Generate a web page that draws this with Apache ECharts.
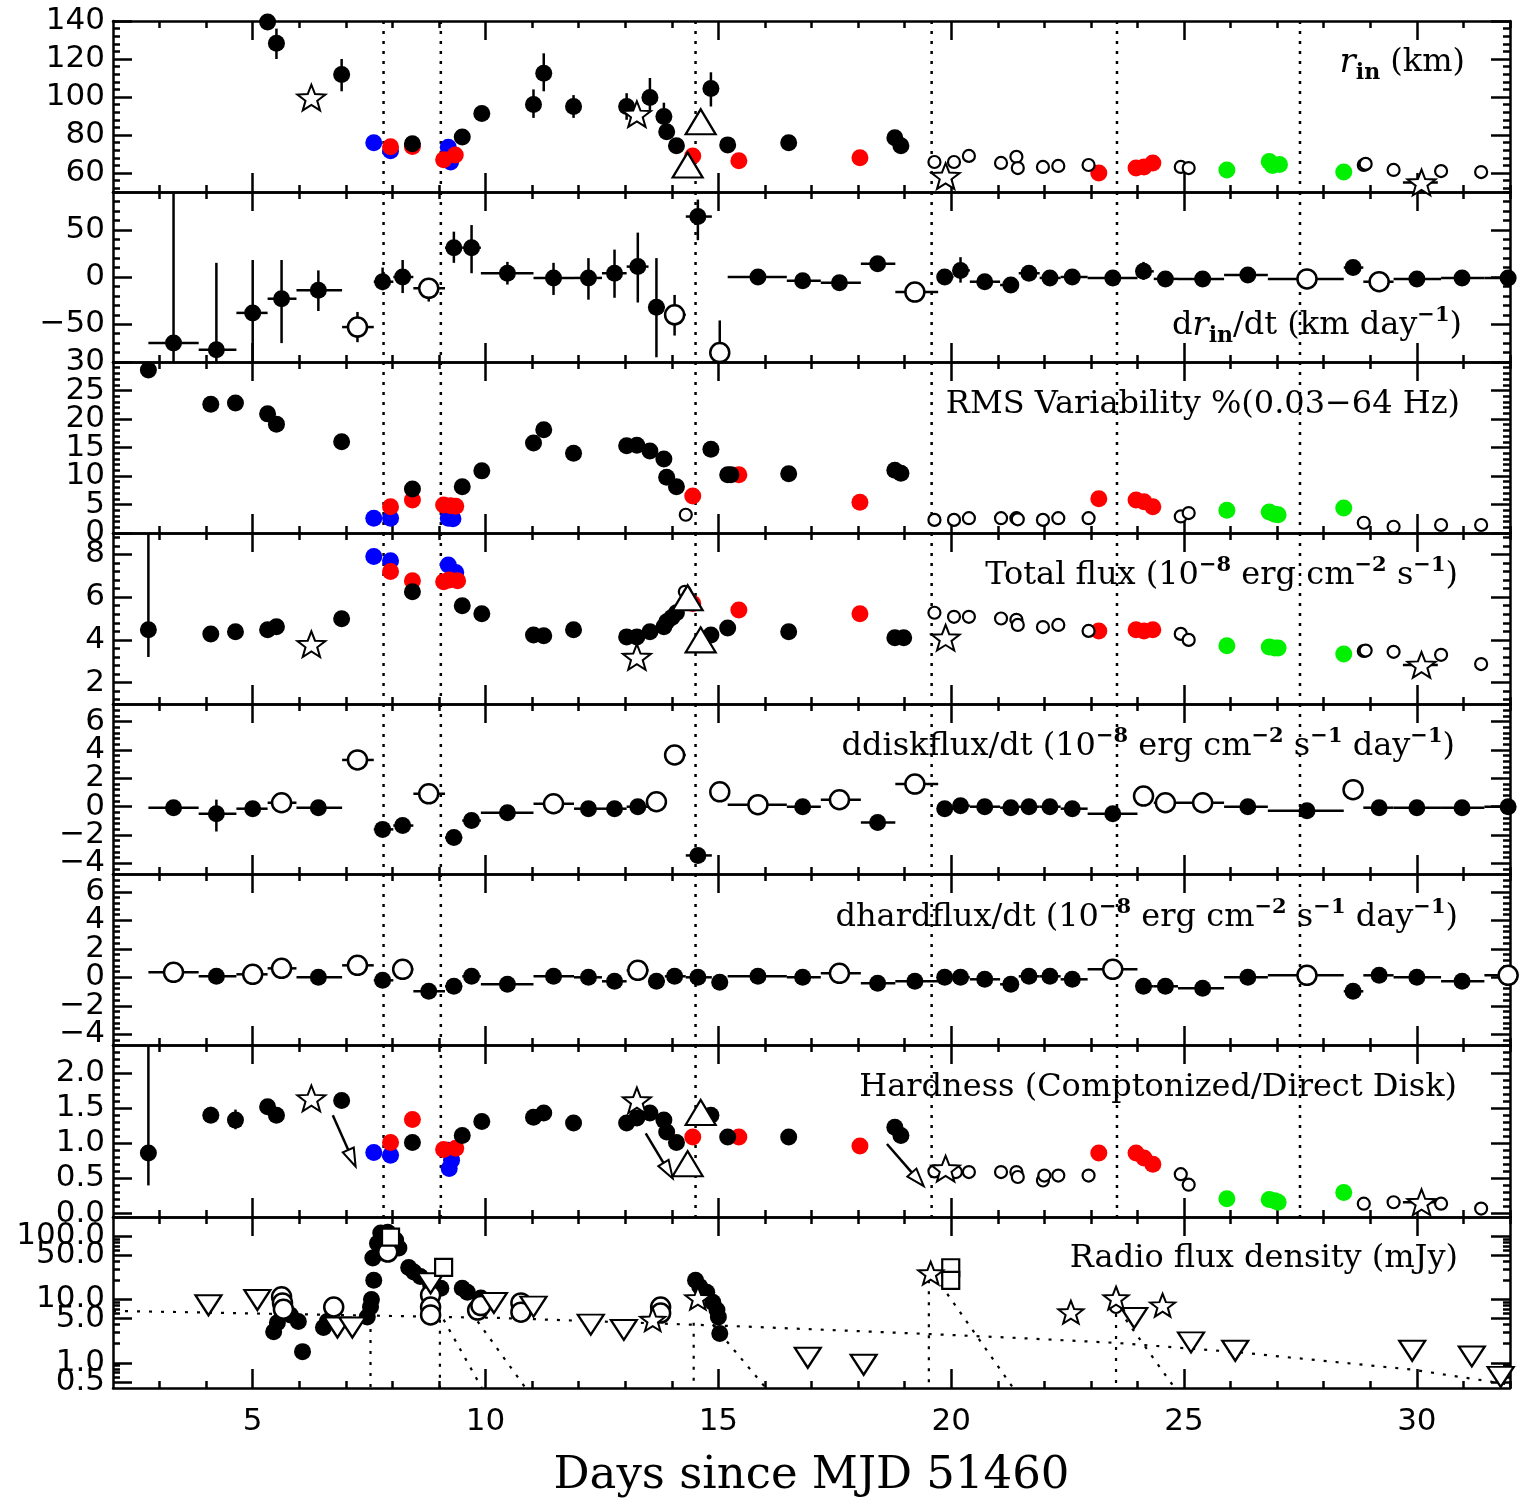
<!DOCTYPE html>
<html>
<head>
<meta charset="utf-8">
<script src="https://cdn.jsdelivr.net/npm/echarts@6.0.0/dist/echarts.min.js"></script>
<style>
  html, body { margin: 0; background: #fff; }
  #chart { width: 1525px; height: 1510px; }
</style>
</head>
<body>
<div id="chart"></div>
<script>
// ---------------- data ----------------
const xMajor = [5, 10, 15, 20, 25, 30];
const eventDays = [7.81, 9.04, 14.51, 19.58, 23.56, 27.49];

// time bins shared by the derivative panels
const binMid = [3.3, 4.22, 5.0, 5.62, 6.41, 7.25, 7.79, 8.22, 8.78, 9.32, 9.7, 10.47, 11.46, 12.21, 12.77, 13.27, 13.67, 14.06, 14.56, 15.03, 15.85, 16.81, 17.6, 18.42, 19.22, 19.86, 20.2, 20.72, 21.28, 21.67, 22.12, 22.6, 23.47, 24.13, 24.6, 25.4, 26.37, 27.64, 28.63, 29.19, 30.0, 30.97, 31.96];
const binEdges = [2.76, 3.84, 4.65, 5.32, 5.94, 6.92, 7.6, 8.02, 8.45, 9.13, 9.5, 9.9, 11.03, 11.9, 12.5, 13.03, 13.5, 13.85, 14.3, 14.86, 15.2, 16.47, 17.2, 18.06, 18.8, 19.72, 20.05, 20.4, 21.05, 21.45, 21.9, 22.35, 22.93, 24.0, 24.35, 24.87, 25.86, 26.8, 28.43, 28.85, 29.5, 30.52, 31.45, 32.45];

// panel 1: r_in (km)
const rinFilled = [[5.32,139.5],[5.51,128.3],[6.91,111.9],[8.43,75.4],[9.5,79],[9.92,91.3],[11.03,96],[11.25,112.5],[11.89,95],[13.03,95],[13.53,99.7],[13.83,89.7],[13.89,81.7],[14.1,74.3],[14.84,104.5],[15.2,74.8],[16.51,75.9],[18.79,78.5],[18.92,74.3]];
const rinErr = [[5.51,120,136],[6.91,103,120],[9.92,88,95],[11.03,89,104],[11.25,103,123],[11.89,89,101],[13.03,88,102],[13.53,93,110],[13.83,88,97],[14.84,95,113]];
const rinRed = [[7.96,73.8],[8.43,74],[9.1,67],[9.35,69.5],[14.45,69],[15.44,66.4],[18.04,68],[23.17,60],[23.97,62.6],[24.14,63.2],[24.33,65.3]];
const rinBlue = [[7.6,75.9],[7.96,71.7],[9.2,73.5],[9.25,65.8]];
const rinGreen = [[25.92,61.6],[26.83,66],[26.9,64],[27.05,64.5],[28.43,60.5]];
const rinOpen = [[19.64,65.8],[20.06,65.8],[20.38,69],[21.07,65.3],[21.4,68.5],[21.43,62.6],[21.97,63.2],[22.3,63.7],[22.95,64.2],[24.93,63.2],[25.1,62.6],[28.86,64.2],[28.9,64.8],[29.5,61.6],[30.52,61],[31.38,60.5]];
const rinStar = [[6.26,99.7],[13.25,91],[19.88,58.4],[30.1,55]];
const rinTri = [[14.62,87],[14.34,64.2]];

// panel 2: dr_in/dt
const drdtY = [-70,-77,-38,-23,-14,-53,-5,0,-12,31,31,4,-1,-1,4,11,-32,-40,64,-80,0,-4,-6,14,-16,0,7,-5,-8.5,4,-1,0,-1,6,-2,-2,2,-2,10,-5,-2,-1,-1];
const drdtHollow = [5, 8, 17, 19, 24, 37, 39];
const drdtYErr = [[0,-120,95],[1,-120,15],[2,-120,18],[3,-70,18],[4,-36,7],[5,-69,-37],[6,-14,10],[7,-17,18],[8,-26,-1],[9,15,48],[10,4,55],[11,-8,16],[12,-19,15],[13,-24,20],[14,-22,29],[15,-27,47],[16,-85,20],[17,-62,-19],[18,39,82],[19,-84,-46],[23,9,19],[26,-6,21],[33,-3,16]];

// panel 3: RMS variability
const rmsFilled = [[2.76,28.6],[4.1,22.6],[4.63,22.8],[5.32,20.9],[5.51,19.1],[6.91,16],[8.43,7.7],[9.5,8.1],[9.92,10.9],[11.03,15.8],[11.25,18.1],[11.89,14],[13.03,15.3],[13.25,15.4],[13.53,14.4],[13.83,13],[13.89,9.8],[14.1,8.1],[14.84,14.7],[15.2,10.2],[15.27,10.2],[16.51,10.4],[18.79,11],[18.92,10.5]];
const rmsRed = [[7.96,4.6],[8.43,5.8],[9.1,4.9],[9.25,4.8],[9.36,4.7],[14.45,6.5],[15.44,10.2],[18.04,5.4],[23.17,6],[23.97,5.8],[24.14,5.5],[24.33,4.6]];
const rmsBlue = [[7.6,2.6],[7.96,2.6],[9.2,2.6],[9.3,2.5]];
const rmsGreen = [[25.92,4],[26.83,3.7],[26.95,3.3],[27.02,3.2],[28.43,4.4]];
const rmsOpen = [[14.3,3.2],[19.64,2.3],[20.06,2.3],[20.38,2.6],[21.07,2.6],[21.4,2.6],[21.43,2.4],[21.97,2.3],[22.3,2.6],[22.95,2.6],[24.93,2.9],[25.1,3.5],[28.86,1.8],[29.5,1.1],[30.52,1.4],[31.38,1.4]];

// panel 4: total flux
const fluxFilled = [[2.76,4.47],[4.1,4.28],[4.63,4.38],[5.32,4.47],[5.51,4.61],[6.91,4.99],[8.43,6.25],[9.5,5.6],[9.92,5.22],[11.03,4.23],[11.25,4.19],[11.89,4.47],[13.03,4.14],[13.25,4.14],[13.53,4.38],[13.83,4.61],[13.89,4.85],[14.0,5.05],[14.1,5.27],[14.84,4.23],[15.2,4.56],[16.51,4.38],[18.79,4.1],[18.98,4.1]];
const fluxErr = [[2.76,3.2,9.5]];
const fluxRed = [[7.96,7.2],[8.43,6.77],[9.1,6.72],[9.22,6.8],[9.4,6.77],[14.45,5.7],[15.44,5.4],[18.04,5.22],[23.17,4.42],[23.97,4.47],[24.14,4.42],[24.33,4.47]];
const fluxBlue = [[7.6,7.9],[7.96,7.7],[9.2,7.5],[9.36,7.15]];
const fluxGreen = [[25.92,3.72],[26.83,3.67],[26.95,3.62],[27.02,3.62],[28.43,3.34]];
const fluxOpen = [[14.28,6.25],[19.64,5.27],[20.06,5.08],[20.38,5.08],[21.07,5.0],[21.4,4.94],[21.43,4.7],[21.97,4.6],[22.3,4.7],[22.95,4.42],[24.93,4.28],[25.1,4.0],[28.86,3.48],[28.9,3.5],[29.5,3.44],[30.52,3.3],[31.38,2.87]];
const fluxStar = [[6.26,3.8],[13.25,3.2],[19.88,4.1],[30.1,2.83]];
const fluxTri = [[14.34,5.97],[14.62,4.0]];

// panel 5: ddiskflux/dt
const ddiskY = [-0.07,-0.5,-0.14,0.28,-0.07,3.3,-1.6,-1.33,0.91,-2.18,-0.98,-0.42,0.21,-0.14,-0.14,0,0.35,3.65,-3.44,1.05,0.14,0,0.49,-1.12,1.6,-0.14,0.07,0,-0.07,0,0,-0.14,-0.49,0.75,0.28,0.28,0,-0.28,1.2,-0.07,-0.07,-0.07,0];
const ddiskHollow = [3, 5, 8, 12, 16, 17, 19, 20, 22, 24, 33, 34, 35, 38];
const ddiskYErr = [[1,-1.75,0.5],[6,-2.1,-1.1],[18,-3.7,-3.2]];

// panel 6: dhardflux/dt
const dhardY = [0.35,0.07,0.21,0.63,0,0.84,-0.21,0.56,-0.98,-0.63,0.07,-0.49,0.07,0,-0.28,0.49,-0.28,0.07,0,-0.35,0.07,0,0.28,-0.42,-0.28,0,0,-0.14,-0.49,0.07,0.07,-0.14,0.56,-0.63,-0.63,-0.77,0,0.14,-0.98,0.14,0,-0.28,0.14];
const dhardHollow = [0, 2, 3, 5, 7, 15, 22, 32, 37, 42];
const dhardYErr = [[16,-0.8,0.25]];

// panel 7: hardness
const hardFilled = [[2.76,0.86],[4.1,1.4],[4.63,1.33],[5.32,1.52],[5.51,1.4],[6.91,1.61],[8.43,1.01],[9.5,1.11],[9.92,1.31],[11.03,1.37],[11.25,1.43],[11.89,1.29],[13.03,1.29],[13.25,1.36],[13.53,1.43],[13.83,1.33],[13.89,1.16],[14.1,1.01],[14.84,1.4],[15.2,1.09],[16.51,1.09],[18.79,1.23],[18.92,1.11]];
const hardErr = [[2.76,0.4,2.5],[4.1,1.3,1.52],[4.63,1.2,1.48]];
const hardRed = [[7.96,1.01],[8.43,1.34],[9.1,0.91],[9.36,0.93],[14.45,1.09],[15.44,1.09],[18.04,0.96],[23.17,0.86],[23.97,0.86],[24.14,0.79],[24.33,0.7]];
const hardBlue = [[7.6,0.87],[7.96,0.83],[9.2,0.9],[9.22,0.64],[9.27,0.76]];
const hardGreen = [[25.92,0.21],[26.83,0.2],[26.95,0.18],[27.02,0.16],[28.43,0.3]];
const hardOpen = [[19.64,0.6],[20.1,0.59],[20.38,0.59],[21.07,0.59],[21.4,0.59],[21.43,0.52],[21.97,0.47],[22.0,0.54],[22.3,0.54],[22.95,0.54],[24.93,0.56],[25.1,0.41],[28.86,0.14],[29.5,0.16],[30.52,0.14],[31.38,0.07]];
const hardStar = [[6.26,1.64],[13.25,1.61],[19.88,0.64],[30.1,0.16]];
const hardTri = [[14.34,0.71],[14.62,1.44]];
const hardArrows = [[6.72,1.4,7.21,0.67],[13.44,1.14,14.02,0.5],[18.62,0.99,19.41,0.39]];
const starBar = [29.7, 30.45];

// panel 8: radio flux density (mJy)
const radioFilled = [[5.45,3.1],[5.53,4.3],[5.66,6.1],[5.81,5.7],[5.98,4.5],[6.07,1.5],[6.52,3.6],[6.6,4.5],[7.46,5.3],[7.53,7.6],[7.55,10],[7.6,20],[7.58,45],[7.68,77],[7.75,112],[7.9,115],[8.07,87],[8.14,65],[8.35,32],[8.46,27],[8.6,23],[8.82,17],[9.04,15],[9.5,15],[9.61,13],[9.9,10.5],[14.51,20],[14.6,16],[14.75,13],[14.88,9],[14.97,6.8],[15.0,5.3],[15.03,2.9]];
const radioOpen = [[5.62,11],[5.64,8.8],[5.66,7],[6.74,7.6],[7.9,56],[8.82,11.7],[8.82,7.6],[8.82,5.7],[9.83,6.8],[9.9,8],[10.76,8.8],[10.76,6.3],[13.76,7.6],[13.76,6.1]];
const radioOpenSmall = [[23.54,7.6]];
const radioStar = [[13.59,4.8],[14.56,10.5],[19.56,26],[22.57,6.3],[23.54,10.5],[24.54,8.1]];
const radioSquare = [[7.96,96],[9.1,32],[19.99,31.6],[19.99,20]];
const radioLimit = [[4.05,8.1],[5.1,9.8],[6.82,3.6],[7.14,3.6],[8.82,18],[10.18,8.8],[11.03,7.7],[12.26,4.0],[12.97,3.3],[16.92,1.2],[18.12,0.93],[23.93,5.1],[25.15,2.1],[26.1,1.55],[29.9,1.55],[31.18,1.26],[31.8,0.6]];
const radioBase = [[2,6.6],[10.3,5.1],[15.3,3.8],[19.5,2.85],[21.5,2.45],[23.5,2.07],[26.1,1.48],[29.9,0.78],[31.7,0.49],[32,0.45]];
const radioRise = [[7.53,5.1],[9.02,4.8],[14.47,4.3],[19.52,20],[23.54,8.8]];
const radioDecay = [[9.1,4.8,9.92,0.4],[9.83,4.5,10.86,0.4],[14.88,4.0,16.02,0.4],[19.78,17,21.33,0.4],[23.75,4.8,24.8,0.4]];

// ---------------- layout ----------------
const SERIF = 'DejaVu Serif';
const SANS = 'DejaVu Sans';
const BLACK = '#000';
const bounds = [21, 192, 362, 533, 704, 874, 1045, 1217, 1388];

function ticks(a, b, s, skip) {
  const out = [];
  for (let v = a; v <= b + 1e-9; v += s) {
    const r = Math.round(v * 1000) / 1000;
    if (!skip.some(k => Math.abs(k - r) < 1e-6)) out.push(r);
  }
  return out;
}

const yCfg = [
  { min: 50, max: 140, major: [60, 80, 100, 120, 140], step: 4, from: 52, digits: 0 },
  { min: -90, max: 90, major: [-50, 0, 50], step: 10, from: -90, digits: 0 },
  { min: 0, max: 30, major: [0, 5, 10, 15, 20, 25, 30], step: 1, from: 0, digits: 0 },
  { min: 1, max: 9, major: [2, 4, 6, 8], step: 0.4, from: 1.2, digits: 0 },
  { min: -4.75, max: 7.25, major: [-4, -2, 0, 2, 4, 6], step: 0.4, from: -4.4, digits: 0 },
  { min: -4.75, max: 7.25, major: [-4, -2, 0, 2, 4, 6], step: 0.4, from: -4.4, digits: 0 },
  { min: -0.05, max: 2.4, major: [0, 0.5, 1, 1.5, 2], step: 0.1, from: 0, digits: 1 },
  { type: 'log', min: 0.4, max: 200, major: [0.5, 1, 5, 10, 50, 100],
    minorList: [0.6, 0.7, 0.8, 0.9, 2, 3, 4, 6, 7, 8, 9, 20, 30, 40, 60, 70, 80, 90], digits: 1 }
];

const fmt = d => v => (d ? Number(v).toFixed(d) : String(Math.round(v))).replace('-', '\u2212');

const grid = [], xAxis = [], yAxis = [];
const lineSty = { color: BLACK, width: 2.5 };
const xMinor = ticks(3, 32, 1, xMajor);
const yLabelStyle = { margin: 8, hideOverlap: false, interval: 0, fontFamily: SANS, fontSize: 31, color: BLACK };

for (let g = 0; g < 8; g++) {
  grid.push({ left: 113, width: 1397, top: bounds[g], height: bounds[g + 1] - bounds[g], outerBoundsMode: 'none' });
  const last = g === 7;
  ['bottom', 'top'].forEach(pos => {
    xAxis.push({
      gridIndex: g, type: 'value', min: 2, max: 32, position: pos,
      axisLine: { show: true, onZero: false, lineStyle: lineSty },
      axisTick: { show: true, inside: true, length: 19, customValues: xMajor, lineStyle: lineSty },
      axisLabel: { show: last && pos === 'bottom', customValues: xMajor, margin: 18, hideOverlap: false, interval: 0,
        fontFamily: SANS, fontSize: 31, color: BLACK },
      splitLine: { show: false },
      name: last && pos === 'bottom' ? 'Days since MJD 51460' : '',
      nameLocation: 'middle', nameGap: 66,
      nameTextStyle: { fontFamily: SERIF, fontSize: 45, color: BLACK }
    });
    xAxis.push({
      gridIndex: g, type: 'value', min: 2, max: 32, position: pos,
      axisLine: { show: false, onZero: false },
      axisTick: { show: true, inside: true, length: 7, customValues: xMinor, lineStyle: lineSty },
      axisLabel: { show: false }, splitLine: { show: false }
    });
  });
  const c = yCfg[g];
  const minor = c.minorList || ticks(c.from, c.max, c.step, c.major);
  // tick labels are split over the two left axes (alternating) so that the
  // library never drops close labels as overlapping
  const evenLabels = c.major.filter((_, i) => i % 2 === 0);
  const oddLabels = c.major.filter((_, i) => i % 2 === 1);
  ['left', 'right'].forEach(pos => {
    yAxis.push({
      gridIndex: g, type: c.type || 'value', min: c.min, max: c.max, position: pos,
      axisLine: { show: true, onZero: false, lineStyle: lineSty },
      axisTick: { show: true, inside: true, length: 19, customValues: c.major, lineStyle: lineSty },
      axisLabel: Object.assign({ show: pos === 'left', customValues: evenLabels, formatter: fmt(c.digits) }, yLabelStyle),
      splitLine: { show: false }
    });
    yAxis.push({
      gridIndex: g, type: c.type || 'value', min: c.min, max: c.max, position: pos,
      axisLine: { show: false, onZero: false },
      axisTick: { show: true, inside: true, length: 7, customValues: minor, lineStyle: lineSty },
      axisLabel: Object.assign({ show: pos === 'left' && oddLabels.length > 0, customValues: oddLabels, formatter: fmt(c.digits) }, yLabelStyle),
      splitLine: { show: false }
    });
  });
}
// each grid uses axes 4g..4g+3; series use the first (bottom / left) axis

// ---------------- series helpers ----------------
const STAR = 'path://M0,-10L2.47,-3.4L9.51,-3.09L3.99,1.3L5.88,8.09L0,4.2L-5.88,8.09L-3.99,1.3L-9.51,-3.09L-2.47,-3.4Z';
const OPEN = { color: '#fff', borderColor: BLACK, opacity: 1 };
const STY = {
  fill:  { symbol: 'circle', symbolSize: 17, itemStyle: { color: BLACK, opacity: 1 } },
  red:   { symbol: 'circle', symbolSize: 17, itemStyle: { color: '#ff0000', opacity: 1 } },
  blue:  { symbol: 'circle', symbolSize: 17, itemStyle: { color: '#0000ff', opacity: 1 } },
  green: { symbol: 'circle', symbolSize: 17, itemStyle: { color: '#00f000', opacity: 1 } },
  openS: { symbol: 'circle', symbolSize: 12, itemStyle: Object.assign({ borderWidth: 2.2 }, OPEN) },
  openL: { symbol: 'circle', symbolSize: 19, itemStyle: Object.assign({ borderWidth: 2.5 }, OPEN) },
  star:  { symbol: STAR, symbolSize: [28, 27], symbolKeepAspect: true, itemStyle: Object.assign({ borderWidth: 2 }, OPEN) },
  starS: { symbol: STAR, symbolSize: [25, 24], symbolKeepAspect: true, itemStyle: Object.assign({ borderWidth: 2 }, OPEN) },
  tri:   { symbol: 'triangle', symbolSize: [30, 25], itemStyle: Object.assign({ borderWidth: 2.2 }, OPEN) },
  dtri:  { symbol: 'triangle', symbolRotate: 180, symbolSize: [26, 20], itemStyle: Object.assign({ borderWidth: 2.2 }, OPEN) },
  sq:    { symbol: 'rect', symbolSize: 17, itemStyle: Object.assign({ borderWidth: 2.2 }, OPEN) }
};

const base = g => ({ xAxisIndex: 4 * g, yAxisIndex: 4 * g, silent: true, animation: false });

function scat(g, data, kind, z) {
  return Object.assign({ type: 'scatter', data, z: z || 5, emphasis: { disabled: true } }, base(g), STY[kind]);
}
function vErr(g, data) {
  return Object.assign({
    type: 'custom', clip: true, z: 2, data, encode: { x: 0, y: [1, 2] },
    renderItem: (p, api) => {
      const a = api.coord([api.value(0), api.value(1)]), b = api.coord([api.value(0), api.value(2)]);
      return { type: 'line', shape: { x1: a[0], y1: a[1], x2: b[0], y2: b[1] }, style: { stroke: BLACK, lineWidth: 2.5 } };
    }
  }, base(g));
}
function hErr(g, data) {
  return Object.assign({
    type: 'custom', clip: true, z: 2, data, encode: { x: [1, 2], y: 0 },
    renderItem: (p, api) => {
      const a = api.coord([api.value(1), api.value(0)]), b = api.coord([api.value(2), api.value(0)]);
      return { type: 'line', shape: { x1: a[0], y1: a[1], x2: b[0], y2: b[1] }, style: { stroke: BLACK, lineWidth: 2.5 } };
    }
  }, base(g));
}
function events(g, yRef) {
  return Object.assign({
    type: 'custom', z: 1, data: eventDays.map(d => [d, yRef]), encode: { x: 0, y: 1 },
    renderItem: (p, api) => {
      const cs = p.coordSys, x = api.coord([api.value(0), api.value(1)])[0];
      return { type: 'line', shape: { x1: x, y1: cs.y, x2: x, y2: cs.y + cs.height },
        style: { stroke: BLACK, lineWidth: 2.5, lineDash: [3, 7] } };
    }
  }, base(g));
}
function binned(g, vals, hollow, yerr, openKind) {
  const pts = binMid.map((x, i) => [x, vals[i]]);
  return [
    hErr(g, binMid.map((x, i) => [vals[i], binEdges[i], binEdges[i + 1]])),
    vErr(g, yerr.map(e => [binMid[e[0]], e[1], e[2]])),
    scat(g, pts.filter((_, i) => !hollow.includes(i)), 'fill'),
    scat(g, pts.filter((_, i) => hollow.includes(i)), openKind, 6)
  ];
}

const series = [];
for (let g = 0; g < 7; g++) series.push(events(g, yCfg[g].min));

// panel 1
series.push(vErr(0, rinErr), hErr(0, [[55, starBar[0], starBar[1]]]),
  scat(0, rinBlue, 'blue'), scat(0, rinRed, 'red'), scat(0, rinGreen, 'green'), scat(0, rinFilled, 'fill'),
  scat(0, rinOpen, 'openS'), scat(0, rinStar, 'star'), scat(0, rinTri, 'tri'));
// panel 2
series.push(...binned(1, drdtY, drdtHollow, drdtYErr, 'openL'));
// panel 3
series.push(scat(2, rmsBlue, 'blue'), scat(2, rmsRed, 'red'), scat(2, rmsGreen, 'green'),
  scat(2, rmsFilled, 'fill'), scat(2, rmsOpen, 'openS'));
// panel 4
series.push(vErr(3, fluxErr), hErr(3, [[2.83, starBar[0], starBar[1]]]),
  scat(3, fluxBlue, 'blue'), scat(3, fluxRed, 'red'), scat(3, fluxGreen, 'green'), scat(3, fluxFilled, 'fill'),
  scat(3, fluxOpen, 'openS'), scat(3, fluxStar, 'star'), scat(3, fluxTri, 'tri'));
// panels 5, 6
series.push(...binned(4, ddiskY, ddiskHollow, ddiskYErr, 'openL'));
series.push(...binned(5, dhardY, dhardHollow, dhardYErr, 'openL'));
// panel 7
series.push(vErr(6, hardErr), hErr(6, [[0.16, starBar[0], starBar[1]]]),
  Object.assign({
    type: 'custom', z: 4, data: hardArrows, encode: { x: [0, 2], y: [1, 3] },
    renderItem: (p, api) => {
      const a = api.coord([api.value(0), api.value(1)]), b = api.coord([api.value(2), api.value(3)]);
      const dx = b[0] - a[0], dy = b[1] - a[1], L = Math.hypot(dx, dy), ux = dx / L, uy = dy / L;
      const bx = b[0] - ux * 18, by = b[1] - uy * 18, nx = -uy * 6, ny = ux * 6;
      return { type: 'group', children: [
        { type: 'line', shape: { x1: a[0], y1: a[1], x2: bx, y2: by }, style: { stroke: BLACK, lineWidth: 2.5 } },
        { type: 'polygon', shape: { points: [[b[0], b[1]], [bx + nx, by + ny], [bx - nx, by - ny]] },
          style: { fill: '#fff', stroke: BLACK, lineWidth: 2 } }
      ] };
    }
  }, base(6)),
  scat(6, hardBlue, 'blue'), scat(6, hardRed, 'red'), scat(6, hardGreen, 'green'), scat(6, hardFilled, 'fill'),
  scat(6, hardOpen, 'openS'), scat(6, hardStar, 'star'), scat(6, hardTri, 'tri'));
// panel 8
const dotted = { stroke: BLACK, lineWidth: 2.2, lineDash: [3, 8] };
series.push(
  Object.assign({ type: 'line', data: radioBase, symbol: 'none', z: 1,
    lineStyle: { color: BLACK, width: 2.2, type: [3, 9] } }, base(7)),
  Object.assign({
    type: 'custom', z: 1, data: radioRise, encode: { x: 0, y: 1 },
    renderItem: (p, api) => {
      const cs = p.coordSys, a = api.coord([api.value(0), api.value(1)]);
      return { type: 'line', shape: { x1: a[0], y1: a[1], x2: a[0], y2: cs.y + cs.height }, style: dotted };
    }
  }, base(7)),
  Object.assign({
    type: 'custom', z: 1, clip: true, data: radioDecay, encode: { x: [0, 2], y: [1, 3] },
    renderItem: (p, api) => {
      const a = api.coord([api.value(0), api.value(1)]), b = api.coord([api.value(2), api.value(3)]);
      return { type: 'line', shape: { x1: a[0], y1: a[1], x2: b[0], y2: b[1] }, style: dotted };
    }
  }, base(7)),
  scat(7, radioFilled, 'fill'), scat(7, radioOpen, 'openL', 6), scat(7, radioOpenSmall, 'openS', 6),
  scat(7, radioLimit, 'dtri', 6), scat(7, radioSquare, 'sq', 6), scat(7, radioStar, 'starS', 7)
);

// ---------------- panel labels ----------------
const rich = {
  n:   { fontFamily: SERIF, fontSize: 32, color: BLACK, lineHeight: 42 },
  it:  { fontFamily: SERIF, fontSize: 34, fontStyle: 'italic', color: BLACK, lineHeight: 42 },
  sup: { fontFamily: SERIF, fontSize: 21, fontWeight: 'bold', color: BLACK, lineHeight: 20, verticalAlign: 'top' },
  sub: { fontFamily: SERIF, fontSize: 22, fontWeight: 'bold', color: BLACK, lineHeight: 18, verticalAlign: 'bottom' }
};
const panelLabels = [
  ['{it|r}{sub|in}{n| (km)}', 63, 60],
  ['{n|d}{it|r}{sub|in}{n|/dt (km day}{sup|\u22121}{n|)}', 326, 63],
  ['{n|RMS Variability %(0.03\u221264 Hz)}', 405, 65],
  ['{n|Total flux (10}{sup|\u22128}{n| erg cm}{sup|\u22122}{n| s}{sup|\u22121}{n|)}', 576, 67],
  ['{n|ddiskflux/dt (10}{sup|\u22128}{n| erg cm}{sup|\u22122}{n| s}{sup|\u22121}{n| day}{sup|\u22121}{n|)}', 747, 70],
  ['{n|dhardflux/dt (10}{sup|\u22128}{n| erg cm}{sup|\u22122}{n| s}{sup|\u22121}{n| day}{sup|\u22121}{n|)}', 918, 67],
  ['{n|Hardness (Comptonized/Direct Disk)}', 1088, 68],
  ['{n|Radio flux density (mJy)}', 1259, 67]
];
const title = panelLabels.map(l => ({
  text: l[0], right: l[2], top: l[1] - 21, padding: 0,
  textStyle: { rich, fontFamily: SERIF, fontSize: 32, color: BLACK, fontWeight: 'normal' }
}));

const chart = echarts.init(document.getElementById('chart'));
chart.setOption({
  animation: false,
  backgroundColor: '#fff',
  title, grid, xAxis, yAxis, series
});
</script>
</body>
</html>
